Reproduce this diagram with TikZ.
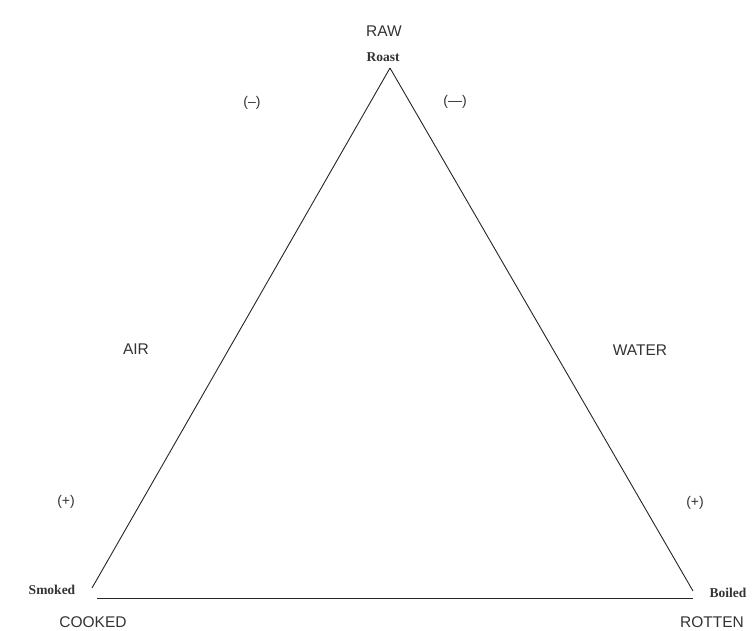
\documentclass[tikz,border=0pt]{standalone}
\usepackage{fontspec}
\setmainfont{Liberation Serif}
\setsansfont{Liberation Sans}
\begin{document}
\begin{tikzpicture}[x=1pt,y=-1pt,
  big/.style={font=\sffamily\fontsize{15.5}{18}\selectfont, text=black!80},
  small/.style={font=\rmfamily\bfseries\fontsize{13.5}{15}\selectfont, text=black!80},
  sign/.style={font=\sffamily\fontsize{14}{16}\selectfont, text=black!80},
  edge/.style={draw=black!85, line width=0.9pt}]
\useasboundingbox (0,0) rectangle (755,630);
\fill[white] (0,0) rectangle (755,630);
% corners
\coordinate (top) at (390,68);
\coordinate (bl) at (92,588);
\coordinate (br) at (693,591);
\coordinate (bbl) at (97,598);
\coordinate (bbr) at (693,598);
\draw[edge] (top) -- (bl);
\draw[edge] (top) -- (br);
\draw[edge] (bbl) -- (bbr);
% labels
\node[big] (raw) at (384,31) {RAW};
\node[small] (roast) at (383,57) {Roast};
\node[sign] (mL) at (252,103) {(--)};
\node[sign] (mR) at (455,102) {(---)};
\node[big] (air) at (136,349) {AIR};
\node[big] (water) at (640,350) {WATER};
\node[sign] (pL) at (66,502) {(+)};
\node[sign] (pR) at (695,503) {(+)};
\node[small] (smoked) at (52,590) {Smoked};
\node[small] (boiled) at (728,593) {Boiled};
\node[big] (cooked) at (93,622) {COOKED};
\node[big] (rotten) at (712,622) {ROTTEN};
\end{tikzpicture}
\end{document}
